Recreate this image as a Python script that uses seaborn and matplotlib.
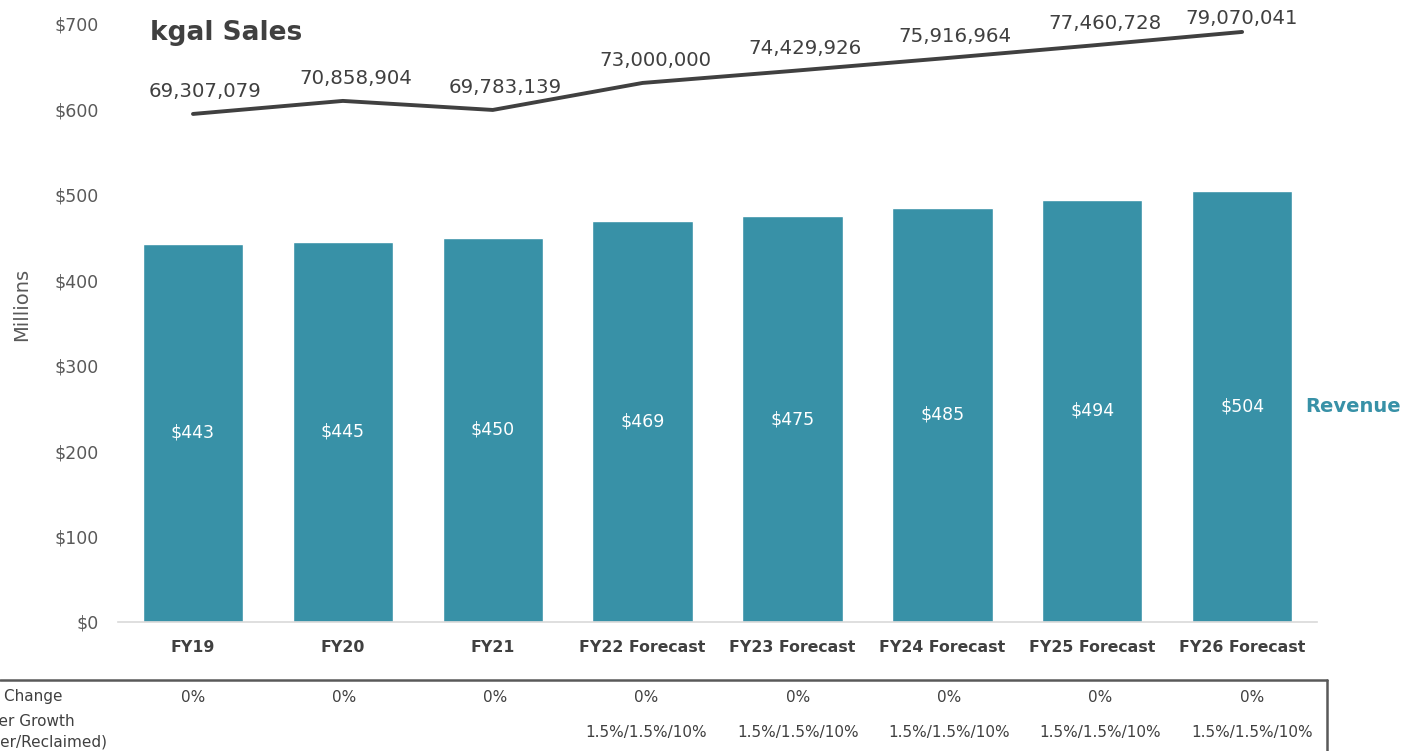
import matplotlib
matplotlib.use("Agg")
import matplotlib.pyplot as plt
import matplotlib.transforms as mtransforms
from matplotlib.lines import Line2D
import seaborn as sns
import pandas as pd

# chart data
years = ["FY19", "FY20", "FY21", "FY22 Forecast", "FY23 Forecast",
         "FY24 Forecast", "FY25 Forecast", "FY26 Forecast"]
revenue = [443, 445, 450, 469, 475, 485, 494, 504]
kgal_sales = [69307079, 70858904, 69783139, 73000000,
              74429926, 75916964, 77460728, 79070041]
rate_change = ["0%", "0%", "0%", "0%", "0%", "0%", "0%", "0%"]
customer_growth = ["", "", "", "1.5%/1.5%/10%", "1.5%/1.5%/10%",
                   "1.5%/1.5%/10%", "1.5%/1.5%/10%", "1.5%/1.5%/10%"]
y_ticks = [0, 100, 200, 300, 400, 500, 600, 700]

BAR_COLOR = "#3891a7"
LINE_COLOR = "#404040"
TEXT_GRAY = "#595959"

sns.set_theme(style="white")
plt.rcParams["font.family"] = ["DejaVu Sans"]

df = pd.DataFrame({"year": years, "revenue": revenue})

fig = plt.figure(figsize=(14.02, 7.51), dpi=100)
ax = fig.add_axes([0.0842, 0.1718, 0.8552, 0.7963])

sns.barplot(data=df, x="year", y="revenue", color=BAR_COLOR, saturation=1,
            width=0.67, ax=ax)
ax.bar_label(ax.containers[0], labels=[f"${v}" for v in revenue],
             label_type="center", color="white", fontsize=12.5)

ax.set_xlim(-0.5, len(years) - 0.5)
ax.set_ylim(0, 700)
ax.set_yticks(y_ticks)
ax.set_yticklabels([f"${v}" for v in y_ticks], color=TEXT_GRAY, fontsize=12.5)
ax.tick_params(axis="y", length=0, pad=14)
ax.tick_params(axis="x", length=0, pad=13)
for lbl in ax.get_xticklabels():
    lbl.set_fontweight("bold")
    lbl.set_fontsize(11.3)
    lbl.set_color(LINE_COLOR)
ax.set_xlabel("")
ax.set_ylabel("")
for side in ["top", "right", "left"]:
    ax.spines[side].set_visible(False)
ax.spines["bottom"].set_color("#d9d9d9")
ax.spines["bottom"].set_linewidth(1.2)

fig.text(22 / 1402, 1 - 304 / 751, "Millions", rotation=90, ha="center",
         va="center", color=TEXT_GRAY, fontsize=14)

# kgal sales line on hidden secondary axis
ax2 = ax.twinx()
sns.lineplot(x=list(range(len(years))), y=kgal_sales, ax=ax2,
             color=LINE_COLOR, linewidth=2.8)
ax2.set_ylim(8.83e6, 80.02e6)
ax2.set_yticks([])
for side in ["top", "right", "left", "bottom"]:
    ax2.spines[side].set_visible(False)
for i, v in enumerate(kgal_sales):
    last = i == len(kgal_sales) - 1
    ax2.annotate(f"{v:,}", (i, v), xytext=(0 if last else 9, 2.5 if last else 9),
                 textcoords="offset points", ha="center", va="bottom",
                 fontsize=14.2, color=LINE_COLOR)

ax.text(0.027, 0.985, "kgal Sales", transform=ax.transAxes, fontsize=19,
        fontweight="bold", color=LINE_COLOR, va="center", ha="left")
ax.text(7.42, revenue[-1] / 2, "Revenue", fontsize=14, fontweight="bold",
        color=BAR_COLOR, ha="left", va="center")

# table beneath the chart
fig.add_artist(Line2D([0, 1327 / 1402], [1 - 680 / 751, 1 - 680 / 751],
                      transform=fig.transFigure, color="#595959", linewidth=1.8))
fig.add_artist(Line2D([1327 / 1402, 1327 / 1402], [1 - 680 / 751, 0],
                      transform=fig.transFigure, color="#595959", linewidth=1.8))

fig.text(62 / 1402, 1 - 697 / 751, "Rate Change", ha="right", va="center",
         fontsize=11, color=LINE_COLOR)
fig.text(75 / 1402, 1 - 721 / 751, "Customer Growth", ha="right", va="center",
         fontsize=11, color=LINE_COLOR)
fig.text(108 / 1402, 1 - 742 / 751, "(Water/Sewer/Reclaimed)", ha="right",
         va="center", fontsize=11, color=LINE_COLOR)

col_left, col_w = 117 / 1402, 151.3 / 1402
for i in range(len(years)):
    cx = col_left + col_w * (i + 0.5)
    fig.text(cx, 1 - 697 / 751, rate_change[i], ha="center",
             va="center", fontsize=11, color=LINE_COLOR)
    if customer_growth[i]:
        fig.text(cx, 1 - 733 / 751, customer_growth[i],
                 ha="center", va="center", fontsize=11, color=LINE_COLOR)

fig.savefig("out.png", dpi=100)
